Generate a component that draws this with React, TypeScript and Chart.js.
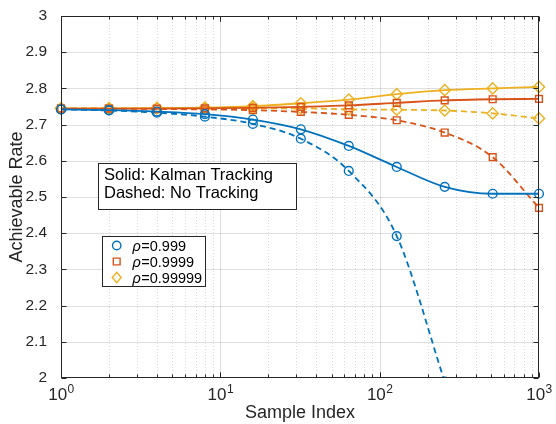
import React, { useEffect, useRef } from 'react';
import { Chart, registerables } from 'chart.js';

Chart.register(...registerables);

// ---- data ----
const sampleIndex = [1, 2, 4, 8, 16, 32, 64, 128, 256, 512, 1000];
const kalman999 = [2.742, 2.740, 2.736, 2.729, 2.714, 2.687, 2.641, 2.583, 2.528, 2.509, 2.509];
const kalman9999 = [2.744, 2.744, 2.744, 2.745, 2.746, 2.749, 2.753, 2.760, 2.767, 2.770, 2.771];
const kalman99999 = [2.745, 2.745, 2.746, 2.747, 2.751, 2.759, 2.769, 2.784, 2.795, 2.800, 2.804];
const noTrack999 = [2.742, 2.739, 2.733, 2.722, 2.702, 2.661, 2.572, 2.392, 1.99];
const noTrack9999 = [2.744, 2.744, 2.743, 2.742, 2.740, 2.735, 2.727, 2.712, 2.678, 2.610, 2.470];
const noTrack99999 = [2.745, 2.745, 2.745, 2.745, 2.745, 2.745, 2.742, 2.741, 2.739, 2.731, 2.717];

const yTickValues = [2, 2.1, 2.2, 2.3, 2.4, 2.5, 2.6, 2.7, 2.8, 2.9, 3];
const xDecades = [1, 10, 100, 1000];
const xDecadeExponents = ['0', '1', '2', '3'];
const rhoLabels = ['=0.999', '=0.9999', '=0.99999'];
const noteLines = ['Solid: Kalman Tracking', 'Dashed: No Tracking'];
const xTitle = 'Sample Index';
const yTitle = 'Achievable Rate';

const COLORS = ['#0072BD', '#D95319', '#EDB120'];
const STYLES = ['circle', 'rect', 'rectRot'];
const RADII = [4.4, 4.8, 5.6];
const FONT = '"Liberation Sans", Arial, Helvetica, sans-serif';
const INK = '#262626';

function pts(vals: number[]) {
  return vals.map((v, i) => ({ x: sampleIndex[i], y: v }));
}

function makeDataset(vals: number[], k: number, dashed: boolean) {
  return {
    data: pts(vals),
    borderColor: COLORS[k],
    backgroundColor: 'rgba(0,0,0,0)',
    pointBackgroundColor: 'rgba(0,0,0,0)',
    pointBorderColor: COLORS[k],
    pointStyle: STYLES[k],
    pointRadius: RADII[k],
    pointBorderWidth: 1.4,
    borderWidth: 1.8,
    borderDash: dashed ? [6, 4] : [],
    cubicInterpolationMode: 'monotone' as const,
    fill: false,
    clip: { left: 10, right: 10, top: 10, bottom: 0 },
  };
}

function drawMarker(ctx: CanvasRenderingContext2D, style: string, x: number, y: number, r: number) {
  ctx.beginPath();
  if (style === 'circle') {
    ctx.arc(x, y, r, 0, Math.PI * 2);
  } else if (style === 'rect') {
    const h = r * Math.SQRT1_2;
    ctx.rect(x - h, y - h, 2 * h, 2 * h);
  } else {
    ctx.moveTo(x, y - r);
    ctx.lineTo(x + r * 0.85, y);
    ctx.lineTo(x, y + r);
    ctx.lineTo(x - r * 0.85, y);
    ctx.closePath();
  }
  ctx.stroke();
}

const decorPlugin = {
  id: 'matlabDecor',
  beforeDatasetsDraw(chart: any) {
    const { ctx, chartArea } = chart;
    const { left, right, top, bottom } = chartArea;
    const xs = chart.scales.x;
    const ys = chart.scales.y;
    ctx.save();
    // minor x grid (dotted)
    ctx.strokeStyle = 'rgba(38,38,38,0.17)';
    ctx.lineWidth = 1;
    ctx.setLineDash([1, 2]);
    for (const d of [1, 10, 100]) {
      for (let m = 2; m <= 9; m++) {
        const px = Math.round(xs.getPixelForValue(m * d)) + 0.5;
        ctx.beginPath();
        ctx.moveTo(px, top);
        ctx.lineTo(px, bottom);
        ctx.stroke();
      }
    }
    ctx.setLineDash([]);
    ctx.strokeStyle = 'rgba(38,38,38,0.15)';
    for (const d of [10, 100]) {
      const px = Math.round(xs.getPixelForValue(d)) + 0.5;
      ctx.beginPath();
      ctx.moveTo(px, top);
      ctx.lineTo(px, bottom);
      ctx.stroke();
    }
    for (const v of yTickValues) {
      if (v === 2 || v === 3) continue;
      const py = Math.round(ys.getPixelForValue(v)) + 0.5;
      ctx.beginPath();
      ctx.moveTo(left, py);
      ctx.lineTo(right, py);
      ctx.stroke();
    }
    ctx.restore();
  },
  afterDatasetsDraw(chart: any) {
    const { ctx, chartArea } = chart;
    const { left, right, top, bottom } = chartArea;
    const xs = chart.scales.x;
    const ys = chart.scales.y;
    ctx.save();
    ctx.strokeStyle = INK;
    ctx.lineWidth = 1;
    const L = Math.round(left) + 0.5;
    const R = Math.round(right) - 0.5;
    const T = Math.round(top) + 0.5;
    const B = Math.round(bottom) - 0.5;
    ctx.strokeRect(L, T, R - L, B - T);
    // x ticks
    for (const d of [1, 10, 100]) {
      for (let m = 1; m <= 10; m++) {
        const v = m * d;
        if (v > 1000) continue;
        const major = m === 1 || m === 10;
        const len = major ? 5 : 3;
        const px = Math.round(xs.getPixelForValue(v)) + 0.5;
        ctx.beginPath();
        ctx.moveTo(px, B);
        ctx.lineTo(px, B - len);
        ctx.moveTo(px, T);
        ctx.lineTo(px, T + len);
        ctx.stroke();
      }
    }
    for (const v of yTickValues) {
      const py = Math.round(ys.getPixelForValue(v)) + 0.5;
      ctx.beginPath();
      ctx.moveTo(L, py);
      ctx.lineTo(L + 5, py);
      ctx.moveTo(R, py);
      ctx.lineTo(R - 5, py);
      ctx.stroke();
    }
    ctx.restore();
  },
  afterDraw(chart: any) {
    const { ctx, chartArea } = chart;
    const { left, right, top, bottom } = chartArea;
    const xs = chart.scales.x;
    ctx.save();
    ctx.fillStyle = INK;
    // x tick labels 10^k
    xDecades.forEach((d, i) => {
      const px = xs.getPixelForValue(d);
      ctx.font = `17px ${FONT}`;
      const wBase = ctx.measureText('10').width;
      ctx.font = `12px ${FONT}`;
      const wSup = ctx.measureText(xDecadeExponents[i]).width;
      const x0 = px - (wBase + wSup) / 2;
      ctx.textAlign = 'left';
      ctx.textBaseline = 'alphabetic';
      ctx.font = `17px ${FONT}`;
      ctx.fillText('10', x0, bottom + 22);
      ctx.font = `12px ${FONT}`;
      ctx.fillText(xDecadeExponents[i], x0 + wBase + 0.5, bottom + 15);
    });
    // axis titles
    ctx.font = `18px ${FONT}`;
    ctx.textAlign = 'center';
    ctx.textBaseline = 'middle';
    ctx.fillText(xTitle, (left + right) / 2, bottom + 35);
    ctx.save();
    ctx.translate(17, (top + bottom) / 2);
    ctx.rotate(-Math.PI / 2);
    ctx.fillText(yTitle, 0, 0);
    ctx.restore();

    // note box
    ctx.fillStyle = '#ffffff';
    ctx.strokeStyle = INK;
    ctx.lineWidth = 1;
    ctx.fillRect(98.5, 163.5, 198, 46);
    ctx.strokeRect(98.5, 163.5, 198, 46);
    ctx.fillStyle = '#000000';
    ctx.font = `16.5px ${FONT}`;
    ctx.textAlign = 'left';
    ctx.textBaseline = 'middle';
    ctx.fillText(noteLines[0], 104, 175);
    ctx.fillText(noteLines[1], 104, 193);

    // legend
    ctx.fillStyle = '#ffffff';
    ctx.fillRect(102.5, 236.5, 103, 50);
    ctx.strokeStyle = INK;
    ctx.strokeRect(102.5, 236.5, 103, 50);
    const rows = [245.5, 261.5, 277.5];
    rhoLabels.forEach((lab, k) => {
      ctx.strokeStyle = COLORS[k];
      ctx.lineWidth = 1.4;
      drawMarker(ctx, STYLES[k], 116.7, rows[k], k === 0 ? 4.2 : k === 1 ? 4.8 : 5.2);
      ctx.fillStyle = '#000000';
      ctx.font = `italic 14.5px ${FONT}`;
      ctx.fillText('\u03C1', 132.5, rows[k] + 1);
      const w = ctx.measureText('\u03C1').width;
      ctx.font = `14.5px ${FONT}`;
      ctx.fillText(lab, 132.5 + w + 0.5, rows[k] + 1);
    });
    ctx.restore();
  },
};

export default function App() {
  const canvasRef = useRef<HTMLCanvasElement | null>(null);

  useEffect(() => {
    document.body.style.margin = '0';
    const canvas = canvasRef.current;
    if (!canvas) return;
    const chart = new Chart(canvas, {
      type: 'line',
      data: {
        datasets: [
          makeDataset(kalman999, 0, false),
          makeDataset(kalman9999, 1, false),
          makeDataset(kalman99999, 2, false),
          makeDataset(noTrack999, 0, true),
          makeDataset(noTrack9999, 1, true),
          makeDataset(noTrack99999, 2, true),
        ] as any,
      },
      options: {
        animation: false,
        responsive: true,
        maintainAspectRatio: false,
        events: [],
        layout: { padding: { top: 16, right: 17, left: 0, bottom: 0 } },
        plugins: {
          legend: { display: false },
          tooltip: { enabled: false },
          title: { display: false },
        },
        scales: {
          x: {
            type: 'logarithmic',
            min: 1,
            max: 1000,
            grid: { display: false },
            border: { display: false },
            ticks: { display: false },
            afterFit: (s: any) => {
              s.height = 46;
            },
          },
          y: {
            type: 'linear',
            min: 2,
            max: 3,
            grid: { display: false },
            border: { display: false },
            ticks: {
              stepSize: 0.1,
              padding: 6,
              color: INK,
              font: { family: FONT, size: 15.5 },
              callback: (v: any) => String(parseFloat(Number(v).toFixed(1))),
            },
            afterFit: (s: any) => {
              s.width = 61;
            },
          },
        },
      } as any,
      plugins: [decorPlugin],
    });
    return () => chart.destroy();
  }, []);

  return (
    <div style={{ position: 'fixed', left: 0, top: 0, width: 556, height: 424, background: '#fff' }}>
      <canvas ref={canvasRef} />
    </div>
  );
}
